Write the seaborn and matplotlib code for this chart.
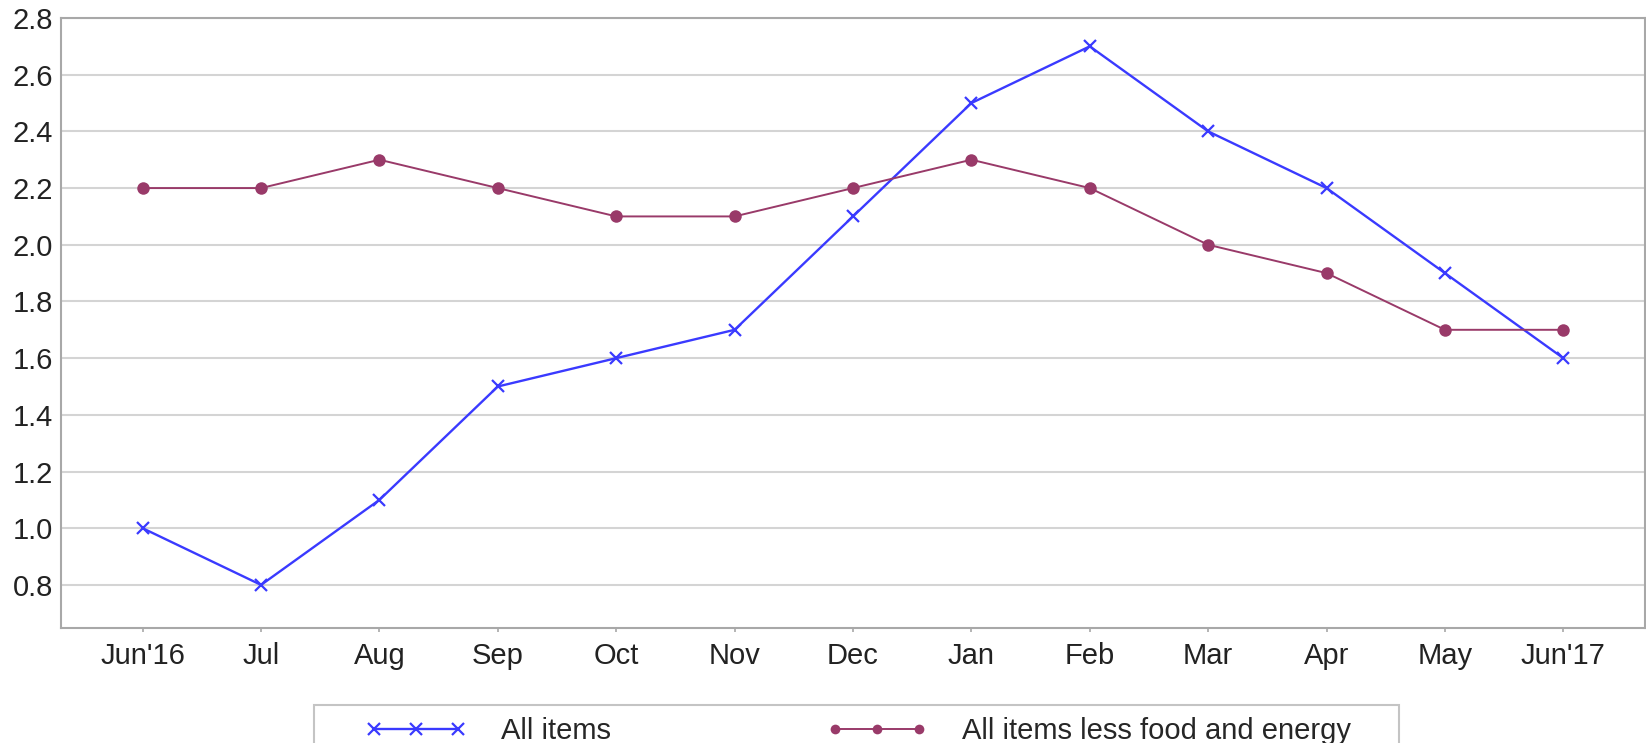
import matplotlib
matplotlib.use("Agg")
import matplotlib.pyplot as plt
from matplotlib.patches import Rectangle
import seaborn as sns
import pandas as pd

months = ["Jun'16", "Jul", "Aug", "Sep", "Oct", "Nov", "Dec", "Jan", "Feb", "Mar", "Apr", "May", "Jun'17"]
all_items = [1.0, 0.8, 1.1, 1.5, 1.6, 1.7, 2.1, 2.5, 2.7, 2.4, 2.2, 1.9, 1.6]
core = [2.2, 2.2, 2.3, 2.2, 2.1, 2.1, 2.2, 2.3, 2.2, 2.0, 1.9, 1.7, 1.7]
series_names = ["All items", "All items less food and energy"]
yticks = [0.8, 1.0, 1.2, 1.4, 1.6, 1.8, 2.0, 2.2, 2.4, 2.6, 2.8]

sns.set_theme(style="white")
plt.rcParams['font.family'] = ['Liberation Sans', 'DejaVu Sans']

W, H = 1646, 743
pos = list(range(len(months)))
df = pd.DataFrame({
    "pos": pos * 2,
    "value": all_items + core,
    "series": [series_names[0]] * len(pos) + [series_names[1]] * len(pos),
})

fig = plt.figure(figsize=(W / 100, H / 100), dpi=100)
ax = fig.add_axes([61 / W, 1 - 628 / H, (1645 - 61) / W, (628 - 18) / H])

blue = "#3a3aff"
purple = "#993a69"
sns.lineplot(data=df[df.series == series_names[0]], x="pos", y="value", ax=ax,
             color=blue, marker="x", markersize=9, markeredgewidth=1.6,
             markeredgecolor=blue, linewidth=1.7, label=series_names[0], legend=False)
sns.lineplot(data=df[df.series == series_names[1]], x="pos", y="value", ax=ax,
             color=purple, marker="o", markersize=9, markeredgewidth=0,
             linewidth=1.4, label=series_names[1], legend=False)

ax.set_xlim(-0.69, len(months) - 1 + 0.69)
ax.set_ylim(0.648, 2.8)
ax.set_xticks(pos)
ax.set_xticklabels(months)
ax.set_yticks(yticks)
ax.set_yticklabels([f"{v:.1f}" for v in yticks])
ax.set_xlabel("")
ax.set_ylabel("")
ax.grid(axis="y", color="#d4d4d4", linewidth=1.5)
ax.grid(axis="x", visible=False)
for s in ax.spines.values():
    s.set_color("#a8a8a8")
    s.set_linewidth(1.5)
ax.tick_params(axis="x", bottom=True, length=3, width=1.2, color="#a8a8a8",
               labelsize=21, labelcolor="#222222", pad=7)
ax.tick_params(axis="y", left=False, length=0, labelsize=21, labelcolor="#222222", pad=5.5)

# legend frame (extends past the bottom edge as in the reference)
fig.add_artist(Rectangle((314 / W, -0.05), (1399 - 314) / W, 0.05 + 1 - 705 / H,
                         transform=fig.transFigure, facecolor="white",
                         edgecolor="#c4c4c4", linewidth=1.5, clip_on=False))

handles, labels = ax.get_legend_handles_labels()
ycenter = 1 - 731 / H
for h, lab, x0, ms in [(handles[0], labels[0], 365, 9), (handles[1], labels[1], 826, 7)]:
    lg = fig.legend([h], [lab], loc="center left", bbox_to_anchor=(x0 / W, ycenter),
                    fontsize=21, frameon=False, numpoints=3, handlelength=3.5,
                    handletextpad=1.15, borderpad=0, borderaxespad=0, markerscale=ms / 9)

fig.savefig("out.png", dpi=100)
